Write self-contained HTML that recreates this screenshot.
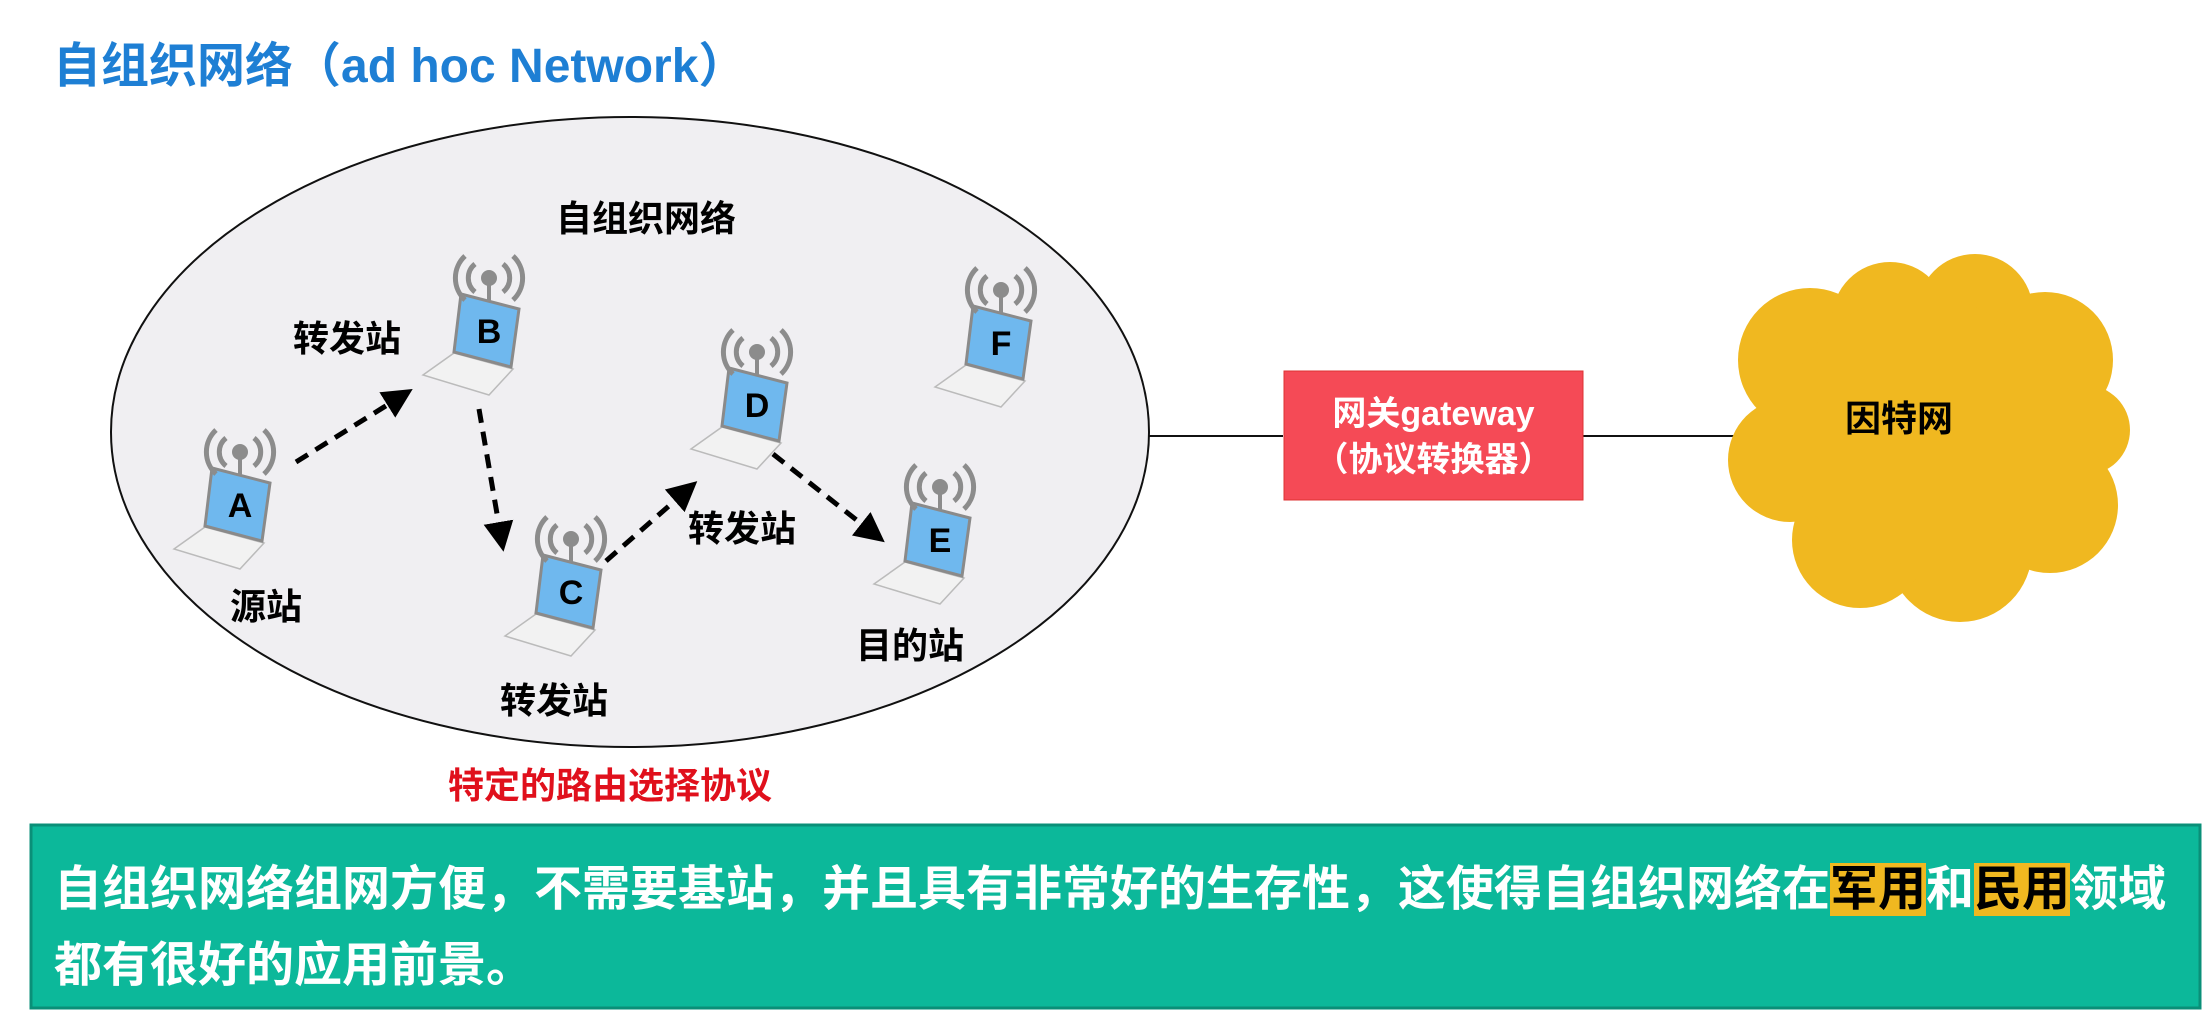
<!DOCTYPE html>
<html><head><meta charset="utf-8"><style>
html,body{margin:0;padding:0;background:#fff;}
body{width:2211px;height:1035px;position:relative;overflow:hidden;font-family:"Liberation Sans","Noto Sans CJK SC",sans-serif;}
.t{position:absolute;white-space:nowrap;font-weight:bold;}
.hl{color:#000;background:#f0b820;}
</style></head><body>
<svg width="2211" height="1035" style="position:absolute;left:0;top:0">
<defs>
<marker id="ah" markerWidth="6" markerHeight="6" refX="3" refY="3" orient="auto" markerUnits="strokeWidth">
<path d="M0,0 L6,3 L0,6 z" fill="#000"/></marker>
<g id="lap">
<polygon points="-35,22 24,38 0,64 -66,44" fill="#f2f2f2" stroke="#bbb" stroke-width="1.5"/>
<polygon points="-28,-37 30,-22 22,36 -35,21" fill="#6fb8ee" stroke="#8a8a8a" stroke-width="3"/>
<circle cx="0" cy="-53" r="8" fill="#8c8c8c"/>
<line x1="0" y1="-50" x2="0" y2="-30" stroke="#8c8c8c" stroke-width="4"/>
<path d="M-14,-67 A18,18 0 0,0 -14,-39 M14,-67 A18,18 0 0,1 14,-39" fill="none" stroke="#8c8c8c" stroke-width="5"/>
<path d="M-24,-75 A30,30 0 0,0 -24,-31 M24,-75 A30,30 0 0,1 24,-31" fill="none" stroke="#8c8c8c" stroke-width="5"/>
</g>
</defs>
<ellipse cx="630" cy="432" rx="519" ry="315" fill="#f0eff2" stroke="#111" stroke-width="2"/>
<line x1="1149" y1="436" x2="1283" y2="436" stroke="#111" stroke-width="2"/>
<line x1="1583" y1="436" x2="1735" y2="436" stroke="#111" stroke-width="2"/>
<rect x="1284" y="371" width="299" height="129" fill="#f54a56" stroke="#d33" stroke-width="1"/>
<g fill="#f0b820">
<circle cx="1810" cy="360" r="72"/><circle cx="1890" cy="320" r="58"/><circle cx="1975" cy="312" r="58"/>
<circle cx="2045" cy="360" r="68"/><circle cx="2085" cy="430" r="45"/><circle cx="2050" cy="505" r="68"/>
<circle cx="1960" cy="550" r="72"/><circle cx="1860" cy="540" r="68"/><circle cx="1790" cy="460" r="62"/>
<circle cx="1920" cy="430" r="135"/>
</g>
<g stroke="#000" stroke-width="5" stroke-dasharray="14,9" fill="none" marker-end="url(#ah)">
<line x1="296" y1="462" x2="400" y2="397"/>
<line x1="479" y1="409" x2="501" y2="537"/>
<line x1="606" y1="561" x2="686" y2="491"/>
<line x1="773" y1="454" x2="873" y2="533"/>
</g>
<use href="#lap" x="240" y="505"/>
<use href="#lap" x="489" y="331"/>
<use href="#lap" x="571" y="592"/>
<use href="#lap" x="757" y="405"/>
<use href="#lap" x="940" y="540"/>
<use href="#lap" x="1001" y="343"/>
<g font-family="Liberation Sans, sans-serif" font-weight="bold" font-size="34" text-anchor="middle" fill="#000">
<text x="240" y="517">A</text><text x="489" y="343">B</text><text x="571" y="604">C</text>
<text x="757" y="417">D</text><text x="940" y="552">E</text><text x="1001" y="355">F</text>
</g>
<rect x="31" y="825" width="2169" height="183" fill="#0cb89a" stroke="#0a8f78" stroke-width="3"/>
</svg>
<div class="t" style="left:53px;top:26px;font-size:48px;color:#1e7fd4;">自组织网络（ad hoc Network）</div>
<div class="t" style="left:556px;top:190px;font-size:36px;">自组织网络</div>
<div class="t" style="left:293px;top:310px;font-size:36px;">转发站</div>
<div class="t" style="left:230px;top:578px;font-size:36px;">源站</div>
<div class="t" style="left:500px;top:672px;font-size:36px;">转发站</div>
<div class="t" style="left:688px;top:500px;font-size:36px;">转发站</div>
<div class="t" style="left:856px;top:617px;font-size:36px;">目的站</div>
<div class="t" style="left:448px;top:757px;font-size:36px;color:#e0101c;">特定的路由选择协议</div>
<div class="t" style="left:1284px;top:391px;width:299px;text-align:center;font-size:34px;color:#fff;line-height:46px;">网关gateway<br>（协议转换器）</div>
<div class="t" style="left:1845px;top:390px;font-size:36px;">因特网</div>
<div class="t" style="left:54px;top:852px;font-size:48px;color:#fff;line-height:76px;">自组织网络组网方便，不需要基站，并且具有非常好的生存性，这使得自组织网络在<span class="hl">军用</span>和<span class="hl">民用</span>领域<br>都有很好的应用前景。</div>
</body></html>
